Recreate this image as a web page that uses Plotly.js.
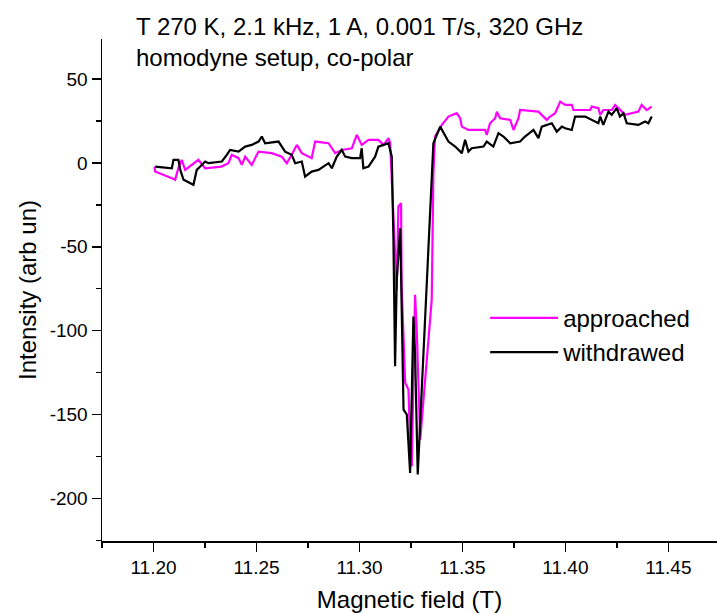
<!DOCTYPE html>
<html>
<head>
<meta charset="utf-8">
<script src="https://cdn.plot.ly/plotly-3.0.1.min.js"></script>
<style>html,body{margin:0;padding:0;background:#fff;}#chart{width:717px;height:613px;}</style>
</head>
<body>
<div id="chart"></div>
<script>
const approachedField = [11.2005,11.2008,11.2089,11.2105,11.2121,11.2137,11.2154,11.2186,11.2218,11.2251,11.2330,11.2364,11.2380,11.2413,11.2429,11.2445,11.2477,11.2510,11.2574,11.2623,11.2647,11.2671,11.2696,11.2720,11.2768,11.2785,11.2850,11.2882,11.2914,11.2963,11.2987,11.3011,11.3044,11.3092,11.3117,11.3141,11.3149,11.3165,11.3181,11.3189,11.3202,11.3205,11.3222,11.3238,11.3246,11.3254,11.3270,11.3278,11.3295,11.3351,11.3359,11.3367,11.3400,11.3432,11.3472,11.3489,11.3497,11.3529,11.3610,11.3618,11.3634,11.3659,11.3667,11.3683,11.3732,11.3748,11.3772,11.3780,11.3869,11.3909,11.3926,11.3950,11.3966,11.3975,11.3999,11.4031,11.4039,11.4120,11.4128,11.4160,11.4169,11.4184,11.4225,11.4241,11.4257,11.4290,11.4354,11.4370,11.4395,11.4419];
const approachedIntensity = [-2.2,-5.2,-9.1,-10.1,-3.0,1.8,-4.2,-1.2,1.8,-3.2,-2.2,-0.2,4.8,2.8,-1.2,3.7,-1.2,6.7,5.8,3.7,-0.2,4.8,10.7,5.8,2.8,12.7,11.7,5.8,7.7,8.7,16.7,10.7,13.7,13.7,10.7,14.7,11.7,-32,-75.6,-26,-24,-73.6,-131,-135,-166.8,-180.8,-78.6,-99.4,-164.9,-81.5,-6.1,15.7,22.6,27.6,29.6,26.6,21.6,19.6,19.6,16.7,23.6,26.6,30.5,26.6,25.6,19.6,26.6,31.5,30.5,25.6,27.6,29.6,34.5,36.5,34.5,34.5,31.5,31.5,33.5,32.6,28.6,31.5,31.5,34.5,32.6,28.6,30.5,34.5,31.5,33.5];

const withdrawedField = [11.2008,11.2089,11.2097,11.2121,11.2130,11.2146,11.2194,11.2210,11.2227,11.2251,11.2267,11.2332,11.2356,11.2372,11.2413,11.2445,11.2477,11.2510,11.2526,11.2542,11.2607,11.2639,11.2671,11.2688,11.2720,11.2736,11.2768,11.2801,11.2850,11.2866,11.2890,11.2914,11.2931,11.2963,11.3003,11.3011,11.3019,11.3044,11.3076,11.3092,11.3117,11.3141,11.3157,11.3165,11.3173,11.3181,11.3198,11.3205,11.3214,11.3230,11.3246,11.3262,11.3270,11.3283,11.3302,11.3359,11.3392,11.3416,11.3432,11.3465,11.3497,11.3513,11.3529,11.3545,11.3602,11.3618,11.3650,11.3675,11.3699,11.3732,11.3780,11.3804,11.3845,11.3869,11.3885,11.3934,11.3958,11.3983,11.3999,11.4031,11.4047,11.4096,11.4128,11.4160,11.4169,11.4184,11.4209,11.4225,11.4249,11.4265,11.4282,11.4298,11.4354,11.4387,11.4403,11.4419];
const withdrawedIntensity = [-2.2,-3.2,1.8,1.8,-4.2,-10.1,-13.1,-4.2,-2.2,0.8,-0.2,0.8,4.8,7.7,6.7,9.7,10.7,12.7,15.7,11.7,12.7,6.7,4.8,-0.2,0.8,-8.2,-5.2,-4.2,-0.2,-3.2,3.7,7.7,3.7,2.8,2.8,8.7,-3.2,-2.2,3.7,9.7,10.7,11.7,3.7,-45.8,-121.2,-69.6,-38.9,-99.4,-147,-150,-184.7,-91.5,-113.3,-185.7,-135.1,11.7,21.6,16.7,12.7,9.7,5.8,13.7,6.7,8.7,9.7,12.7,9.7,17.7,15.7,11.7,12.7,15.7,19.6,14.7,21.6,23.6,18.6,21.6,20.6,19.6,27.6,27.6,25.6,23.6,27.6,22.6,30.5,28.6,32.6,27.6,29.6,23.6,22.6,24.6,23.6,27.6];

const seriesNames = ['approached', 'withdrawed'];
const yTickVals = [-200, -150, -100, -50, 0, 50];
const yTickText = ['-200', '-150', '-100', '-50', '0', '50'];
const titleLines = ['T 270 K, 2.1 kHz, 1 A, 0.001 T/s, 320 GHz', 'homodyne setup, co-polar'];
const xTitle = 'Magnetic field (T)';
const yTitle = 'Intensity (arb un)';

const FONT = '"Liberation Sans", Arial, sans-serif';

const traces = [
  {x: approachedField, y: approachedIntensity, name: seriesNames[0], type: 'scatter', mode: 'lines',
   line: {color: '#FF00FF', width: 2.2}},
  {x: withdrawedField, y: withdrawedIntensity, name: seriesNames[1], type: 'scatter', mode: 'lines',
   line: {color: '#000000', width: 2.2}}
];

const layout = {
  width: 717, height: 613,
  margin: {l: 102, r: 0, t: 39, b: 71.5, pad: 0},
  paper_bgcolor: '#fff', plot_bgcolor: '#fff',
  font: {family: FONT, color: '#000', size: 19},
  showlegend: true,
  legend: {x: 0.623, y: 0.4885, xanchor: 'left', yanchor: 'top', bgcolor: 'rgba(0,0,0,0)',
           borderwidth: 0, font: {family: FONT, size: 24, color: '#000'}, itemwidth: 68, tracegroupgap: 0},
  xaxis: {
    range: [11.175, 11.4736], showgrid: false, zeroline: false,
    showline: true, linecolor: '#000', linewidth: 1.5,
    ticks: 'outside', ticklen: 9, tickwidth: 1.5, tickcolor: '#000',
    dtick: 0.05, tick0: 11.2, tickformat: '.2f',
    minor: {dtick: 0.025, tick0: 11.175, ticks: 'outside', ticklen: 5, tickwidth: 1.5, tickcolor: '#000', showgrid: false},
    tickfont: {family: FONT, size: 19, color: '#000'},
    title: {text: xTitle, font: {family: FONT, size: 24, color: '#000'}, standoff: 18},
    automargin: false
  },
  yaxis: {
    range: [-225.3, 73.8], showgrid: false, zeroline: false,
    showline: true, linecolor: '#000', linewidth: 1.5,
    ticks: 'outside', ticklen: 9, tickwidth: 1.5, tickcolor: '#000',
    tickvals: yTickVals, ticktext: yTickText,
    minor: {tickvals: [-225, -175, -125, -75, -25, 25], ticks: 'outside', ticklen: 5, tickwidth: 1.5, tickcolor: '#000', showgrid: false},
    tickfont: {family: FONT, size: 19, color: '#000'},
    title: {text: yTitle, font: {family: FONT, size: 24, color: '#000'}, standoff: 6},
    automargin: false
  },
  annotations: [
    {xref: 'paper', yref: 'paper', x: 0.052, y: 1.0557, xanchor: 'left', yanchor: 'top', showarrow: false,
     align: 'left', text: titleLines.join('<br>'), font: {family: FONT, size: 24, color: '#000'}}
  ]
};

Plotly.newPlot('chart', traces, layout, {staticPlot: true, displayModeBar: false});
</script>
</body>
</html>
